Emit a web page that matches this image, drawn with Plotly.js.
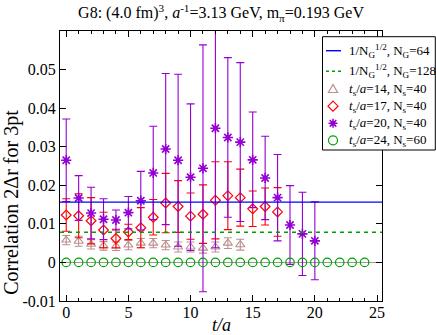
<!DOCTYPE html>
<html><head><meta charset="utf-8">
<script src="https://cdn.plot.ly/plotly-3.0.1.min.js"></script>
<style>html,body{margin:0;padding:0;background:#fff}#chart{width:436px;height:335px}</style>
</head><body><div id="chart"></div>
<script>
// ---- data ----
const refLevels = [0.015625, 0.0078125];   // 1/N_G^{1/2} lines (N_G=64, 128)
const refNames = ['1/N<sub>G</sub><sup>1/2</sup>, N<sub>G</sub>=64', '1/N<sub>G</sub><sup>1/2</sup>, N<sub>G</sub>=128'];
const seriesNames = ['<i>t</i><sub>s</sub>/<i>a</i>=14, N<sub>s</sub>=40', '<i>t</i><sub>s</sub>/<i>a</i>=17, N<sub>s</sub>=40',
                     '<i>t</i><sub>s</sub>/<i>a</i>=20, N<sub>s</sub>=40', '<i>t</i><sub>s</sub>/<i>a</i>=24, N<sub>s</sub>=60'];

const t14 = [0,1,2,3,4,5,6,7,8,9,10,11,12,13,14];
const y14 = [0.0058,0.0055,0.0047,0.0043,0.0042,0.0045,0.0050,0.0050,0.0045,0.0040,0.0040,0.0037,0.0040,0.0050,0.0046];
const e14 = [0.0012,0.0013,0.0012,0.0011,0.0011,0.0012,0.0012,0.0012,0.0012,0.0013,0.0013,0.0013,0.0013,0.0014,0.0014];

const t17 = [0,1,2,3,4,5,6,7,8,9,10,11,12,13,14,15,16,17];
const y17 = [0.0123,0.0121,0.0108,0.0084,0.0062,0.0079,0.0090,0.0117,0.0154,0.0145,0.0120,0.0125,0.0161,0.0173,0.0168,0.0139,0.0145,0.0131];
const e17 = [0.0042,0.0057,0.0060,0.0046,0.0024,0.0020,0.0052,0.0046,0.0077,0.0067,0.0060,0.0076,0.0100,0.0088,0.0074,0.0046,0.0048,0.0063];

const t20 = [0,1,2,3,4,5,6,7,8,9,10,11,12,13,14,15,16,17,18,19,20];
const y20 = [0.0265,0.0167,0.0128,0.0112,0.0110,0.0129,0.0160,0.0232,0.0294,0.0265,0.0221,0.0244,0.0348,0.0324,0.0312,0.0266,0.0219,0.0168,0.0097,0.0074,0.0056];
const e20 = [0.0107,0.0058,0.0067,0.0053,0.0026,0.0042,0.0076,0.0121,0.0196,0.0223,0.0190,0.0320,0.0310,0.0207,0.0206,0.0124,0.0108,0.0112,0.0102,0.0108,0.0101];

const t24 = [0,1,2,3,4,5,6,7,8,9,10,11,12,13,14,15,16,17,18,19,20,21,22,23,24];
const y24 = [0,0,0,0,0,0,0,0,0,0,0,0,0,0,0,0,0,0,0,0,0,0,0,0,0];

const xTicks = [0,5,10,15,20,25];
const yTicks = [-0.01,0,0.01,0.02,0.03,0.04,0.05,0.06];
const yTickText = ['-0.01','0','0.01','0.02','0.03','0.04','0.05',''];
const xRange = [-0.5, 25.4];
const yRange = [-0.01, 0.06];

const serif = 'Liberation Serif';
const cRose = '#bc8f8f', cRed = '#ff0000', cPurple = '#9400d3', cGreen = '#00a000', cBlue = '#0000ff';

function errs(arr, col){ return {type:'data', array:arr, visible:true, color:col, thickness:1.1, width:4}; }

const traces = [
  {x:t14, y:y14, mode:'markers', name:seriesNames[0], showlegend:false,
   marker:{symbol:'triangle-up-open', size:8, color:cRose, line:{width:1.1}}, error_y:errs(e14,cRose)},
  {x:t17, y:y17, mode:'markers', name:seriesNames[1], showlegend:false,
   marker:{symbol:'diamond-open', size:7.5, color:cRed, line:{width:1.2}}, error_y:errs(e17,cRed)},
  {x:t20, y:y20, mode:'markers', name:seriesNames[2], showlegend:false,
   marker:{symbol:'asterisk-open', size:8.5, color:cPurple, line:{width:1.6, color:cPurple}}, error_y:errs(e20,cPurple)},
  {x:t20, y:y20, mode:'markers', showlegend:false, hoverinfo:'skip',
   marker:{symbol:'square', size:3.8, color:cPurple}},
  {x:t24, y:y24, mode:'markers', name:seriesNames[3], showlegend:false,
   marker:{symbol:'circle-open', size:8.5, color:cGreen, line:{width:1.2}}},
  {x:xRange, y:[refLevels[0],refLevels[0]], mode:'lines', name:refNames[0], showlegend:false,
   line:{color:cBlue, width:1.4}},
  {x:xRange, y:[refLevels[1],refLevels[1]], mode:'lines', name:refNames[1], showlegend:false,
   line:{color:cGreen, width:1.4, dash:'4px,4px'}}
];

// ---- hand-built legend box (paper coords from pixel positions) ----
const W = 436, H = 335, mL = 60, mR = 54, mT = 31, mB = 34;
const pw = W - mL - mR, ph = H - mT - mB;
const PX = px => (px - mL) / pw;
const PY = py => (H - mB - py) / ph;
const legRows = [50.7, 71.2, 89.3, 106.2, 123.3, 140.3];
const symX = 333, txtX = 347;

function sym(path, row, col, fill){
  return {type:'path', xref:'paper', yref:'paper', xsizemode:'pixel', ysizemode:'pixel',
          xanchor:PX(symX), yanchor:PY(legRows[row]), path:path, layer:'above',
          line:{color:col, width:1.2}, fillcolor:fill || 'rgba(0,0,0,0)'};
}
const shapes = [
  {type:'rect', xref:'paper', yref:'paper', x0:PX(322.5), x1:PX(435.3), y0:PY(150), y1:PY(36.7),
   line:{color:'#000', width:1}, fillcolor:'#fff', layer:'above'},
  {type:'line', xref:'paper', yref:'paper', x0:PX(326), x1:PX(341), y0:PY(legRows[0]), y1:PY(legRows[0]),
   line:{color:cBlue, width:1.4}, layer:'above'},
  {type:'line', xref:'paper', yref:'paper', x0:PX(326), x1:PX(341), y0:PY(legRows[1]), y1:PY(legRows[1]),
   line:{color:cGreen, width:1.4, dash:'3px,3px'}, layer:'above'},
  sym('M-4.6,-3.2 L4.6,-3.2 L0,4.8 Z', 2, cRose),
  sym('M0,5 L5,0 L0,-5 L-5,0 Z', 3, cRed),
  Object.assign(sym('M-4.5,0 L4.5,0 M0,-4.5 L0,4.5 M-3.3,-3.3 L3.3,3.3 M-3.3,3.3 L3.3,-3.3', 4, cPurple), {line:{color:cPurple, width:1.5}}),
  sym('M-1.6,-1.6 L1.6,-1.6 L1.6,1.6 L-1.6,1.6 Z', 4, cPurple, cPurple),
  {type:'circle', xref:'paper', yref:'paper', xsizemode:'pixel', ysizemode:'pixel',
   xanchor:PX(symX), yanchor:PY(legRows[5]), x0:-4.5, x1:4.5, y0:-4.5, y1:4.5,
   line:{color:cGreen, width:1.2}, layer:'above'}
];
const legNames = refNames.concat(seriesNames);
const legendAnn = legNames.map((t, i) => ({text:t, xref:'paper', yref:'paper', x:PX(txtX), y:PY(legRows[i]),
   xanchor:'left', yanchor:'middle', showarrow:false, font:{family:serif, size:13, color:'#000'}}));

const axisCommon = {showline:true, linecolor:'#000', linewidth:1, mirror:'ticks', ticks:'inside',
  tickcolor:'#000', showgrid:false, tickfont:{family:serif, size:16, color:'#000'}};

const layout = {
  width:W, height:H,
  margin:{l:mL, r:mR, t:mT, b:mB, pad:0},
  paper_bgcolor:'#fff', plot_bgcolor:'#fff',
  font:{family:serif, color:'#000'},
  showlegend:false,
  title:{text:'G8: (4.0 fm)<sup>3</sup>, <i>a</i><sup>-1</sup>=3.13 GeV, m<sub>π</sub>=0.193 GeV',
         font:{family:serif, size:16, color:'#000'}, x:0.507, xanchor:'center', y:0.962, yanchor:'middle'},
  xaxis:Object.assign({}, axisCommon, {range:xRange, tickvals:xTicks, ticklen:6, zeroline:false, ticklabelstandoff:-3,
     minor:{dtick:1, ticklen:3, ticks:'inside', tickcolor:'#000'}}),
  yaxis:Object.assign({}, axisCommon, {range:yRange, tickvals:yTicks, ticktext:yTickText, ticklen:6,
     zeroline:true, zerolinecolor:'#999', zerolinewidth:1.5}),
  shapes:shapes,
  annotations:[
    {text:'Correlation 2Δr for 3pt', textangle:-90, xref:'paper', yref:'paper', x:-0.149, y:0.364,
     xanchor:'center', yanchor:'middle', showarrow:false, font:{family:serif, size:20, color:'#000'}},
    {text:'<i>t/a</i>', xref:'paper', yref:'paper', x:0.5, y:-0.133, xanchor:'center', yanchor:'bottom',
     showarrow:false, font:{family:serif, size:18, color:'#000'}}
  ].concat(legendAnn)
};

Plotly.newPlot('chart', traces, layout, {staticPlot:true, displayModeBar:false});
</script></body></html>
